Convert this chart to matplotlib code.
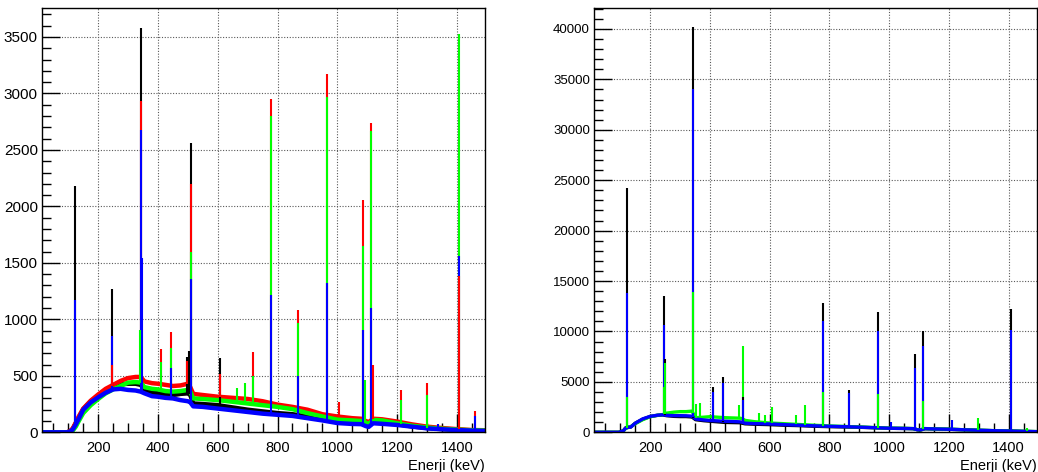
import matplotlib
matplotlib.use("Agg")
import matplotlib.pyplot as plt
import numpy as np
from matplotlib.ticker import MultipleLocator

# ---------------- data: left panel (continuum knots) ----------------
L_energy = [10, 95, 105, 115, 125, 135, 150, 175, 200, 225, 250, 275, 300, 325, 342, 355,
            380, 400, 425, 450, 475, 500, 508, 518, 550, 600, 650, 700, 750, 800, 850, 900,
            950, 1000, 1050, 1080, 1095, 1105, 1120, 1150, 1200, 1250, 1300, 1350, 1400, 1450, 1500]
L_red = [0, 0, 8, 35, 85, 140, 210, 280, 335, 385, 420, 455, 480, 490, 490, 450,
         435, 430, 420, 410, 415, 430, 400, 340, 330, 315, 305, 295, 275, 245, 225, 200,
         160, 140, 125, 120, 100, 90, 120, 115, 95, 70, 50, 38, 28, 20, 18]
L_green = [0, 0, 3, 15, 50, 100, 170, 240, 295, 345, 380, 410, 440, 445, 440, 400,
           385, 380, 365, 360, 365, 375, 360, 300, 295, 285, 270, 255, 240, 225, 205, 170,
           140, 112, 105, 100, 85, 75, 110, 105, 80, 58, 42, 32, 24, 18, 15]
L_black = [0, 0, 6, 30, 80, 130, 205, 275, 320, 365, 400, 425, 430, 430, 420, 380,
           350, 345, 335, 330, 340, 345, 330, 255, 250, 240, 220, 200, 185, 170, 160, 140,
           115, 95, 85, 80, 65, 55, 95, 90, 72, 52, 38, 28, 22, 16, 13]
L_blue = [0, 0, 5, 25, 70, 120, 200, 265, 310, 350, 380, 385, 375, 370, 360, 345,
          320, 315, 305, 300, 285, 275, 265, 230, 225, 210, 195, 180, 165, 155, 145, 125,
          105, 82, 74, 72, 55, 48, 80, 75, 65, 50, 35, 27, 20, 15, 12]

# left panel peaks (energy keV, height counts)
L_black_pk_e = [122, 245, 344, 497, 505, 511, 609]
L_black_pk_h = [2180, 1270, 3580, 670, 720, 2560, 660]
L_red_pk_e = [245, 344, 411, 444, 497, 511, 609, 719, 779, 867, 964, 1005, 1085, 1112, 1120,
              1212, 1299, 1408, 1460]
L_red_pk_h = [600, 2930, 735, 885, 635, 2195, 520, 715, 2950, 1080, 3170, 270, 2055, 2735, 595,
              375, 435, 1385, 185]
L_green_pk_e = [341, 411, 444, 511, 665, 690, 719, 779, 867, 964, 1085, 1093, 1112, 1212, 1299, 1408]
L_green_pk_h = [910, 625, 750, 1600, 390, 440, 495, 2800, 970, 2970, 1650, 465, 2665, 290, 330, 3530]
L_blue_pk_e = [122, 245, 344, 348, 444, 511, 779, 867, 964, 1085, 1112, 1338, 1408, 1460]
L_blue_pk_h = [1170, 850, 2675, 1540, 570, 1360, 1220, 500, 1320, 905, 1100, 75, 1560, 140]

# ---------------- data: right panel ----------------
R_energy = [10, 95, 110, 118, 128, 135, 150, 175, 200, 225, 242, 255, 280, 300, 320, 340, 352,
            380, 400, 450, 500, 508, 518, 550, 600, 650, 700, 750, 800, 850, 900, 950, 1000,
            1050, 1080, 1095, 1105, 1120, 1150, 1200, 1250, 1300, 1350, 1400, 1450, 1500]
R_black = [0, 0, 150, 450, 500, 520, 900, 1300, 1560, 1680, 1720, 1650, 1580, 1560, 1560, 1520, 1250,
           1150, 1100, 980, 950, 900, 840, 800, 760, 700, 660, 600, 560, 530, 500, 450, 400,
           380, 360, 250, 230, 360, 330, 300, 250, 200, 160, 130, 90, 60]
R_green = [0, 0, 120, 380, 500, 560, 850, 1250, 1550, 1700, 1750, 1900, 2000, 2050, 2050, 2100, 1450,
           1500, 1550, 1450, 1400, 1350, 1180, 1050, 920, 850, 770, 700, 630, 580, 530, 470, 410,
           390, 370, 260, 240, 370, 340, 310, 255, 205, 165, 135, 95, 65]
R_blue = [0, 0, 140, 420, 500, 520, 900, 1330, 1580, 1700, 1740, 1680, 1650, 1650, 1640, 1600, 1320,
          1220, 1170, 1100, 1040, 1000, 900, 860, 830, 760, 700, 640, 600, 560, 510, 460, 400,
          380, 365, 250, 235, 365, 335, 300, 250, 200, 160, 130, 90, 60]

R_black_pk_e = [122, 245, 250, 344, 411, 444, 511, 779, 867, 964, 1085, 1112, 1408]
R_black_pk_h = [24200, 13550, 7240, 40150, 4450, 5450, 3540, 12850, 4200, 11930, 7770, 10050, 12260]
R_green_pk_e = [122, 245, 250, 344, 352, 367, 497, 511, 563, 586, 609, 688, 719, 779, 964, 1112,
                1299, 1460]
R_green_pk_h = [3500, 4500, 6850, 13900, 2800, 2870, 2700, 8560, 1880, 1720, 2550, 1720, 2700, 4000,
                3800, 3100, 1390, 450]
R_blue_pk_e = [122, 245, 344, 411, 444, 511, 779, 867, 964, 1005, 1085, 1112, 1212, 1408]
R_blue_pk_h = [13800, 10640, 34000, 4000, 4860, 3200, 11070, 3870, 10080, 1060, 6350, 8600, 1220, 10150]

X_LABEL = "Enerji (keV)"

# ---------------- styling ----------------
BLACK, RED, GREEN, BLUE = "#000000", "#ff0000", "#00ff00", "#0000ff"
FONT = ["Liberation Sans", "DejaVu Sans"]

fig = plt.figure(figsize=(10.38, 4.72), dpi=100)
W, H = 1038.0, 472.0
axL = fig.add_axes([42 / W, 1 - 432.3 / H, 443 / W, 424 / H])
axR = fig.add_axes([594 / W, 1 - 432.3 / H, 442.7 / W, 424 / H])


def draw(ax, energy, series, peaks, ymax, ytick_step, yminor, ysize, lw):
    for vals, col in series:
        ax.plot(energy, vals, color=col, lw=lw, solid_joinstyle="round", zorder=2)
    allpk = []
    for e_list, h_list, vals, col in peaks:
        for e, h in zip(e_list, h_list):
            base = float(np.interp(e, energy, vals))
            allpk.append((h, e, base, col))
    allpk.sort(key=lambda t: -t[0])
    for h, e, base, col in allpk:
        ax.vlines(e, base, h, color=col, lw=1.5, zorder=3)
    ax.set_xlim(12, 1494)
    ax.set_ylim(0, ymax)
    ax.xaxis.set_major_locator(MultipleLocator(200))
    ax.xaxis.set_minor_locator(MultipleLocator(50))
    ax.yaxis.set_major_locator(MultipleLocator(ytick_step))
    ax.yaxis.set_minor_locator(MultipleLocator(yminor))
    ax.tick_params(which="both", direction="in", color="black", width=1,
                   top=False, right=False)
    ax.tick_params(which="major", length=13)
    ax.tick_params(which="minor", length=6.5)
    ax.tick_params(axis="y", pad=3)
    ax.tick_params(axis="x", pad=6)
    for lab in ax.get_yticklabels():
        lab.set_family(FONT)
        lab.set_fontsize(ysize)
    for lab in ax.get_xticklabels():
        lab.set_family(FONT)
        lab.set_fontsize(10.5)
    ax.grid(True, which="major", color="0.35", linestyle=(0, (1, 1.5)), linewidth=0.8)
    ax.set_axisbelow(True)
    for s in ax.spines.values():
        s.set_linewidth(1)
        s.set_color("black")
    ax.set_xlabel(X_LABEL, loc="right", family=FONT, fontsize=10.5, labelpad=3)


draw(axL, L_energy,
     [(L_black, BLACK), (L_red, RED), (L_green, GREEN), (L_blue, BLUE)],
     [(L_black_pk_e, L_black_pk_h, L_black, BLACK), (L_red_pk_e, L_red_pk_h, L_red, RED),
      (L_green_pk_e, L_green_pk_h, L_green, GREEN), (L_blue_pk_e, L_blue_pk_h, L_blue, BLUE)],
     3754, 500, 100, 11, 3.2)

draw(axR, R_energy,
     [(R_black, BLACK), (R_green, GREEN), (R_blue, BLUE)],
     [(R_black_pk_e, R_black_pk_h, R_black, BLACK), (R_green_pk_e, R_green_pk_h, R_green, GREEN),
      (R_blue_pk_e, R_blue_pk_h, R_blue, BLUE)],
     42050, 5000, 1000, 9.5, 2.4)

fig.savefig("out.png", dpi=100)
